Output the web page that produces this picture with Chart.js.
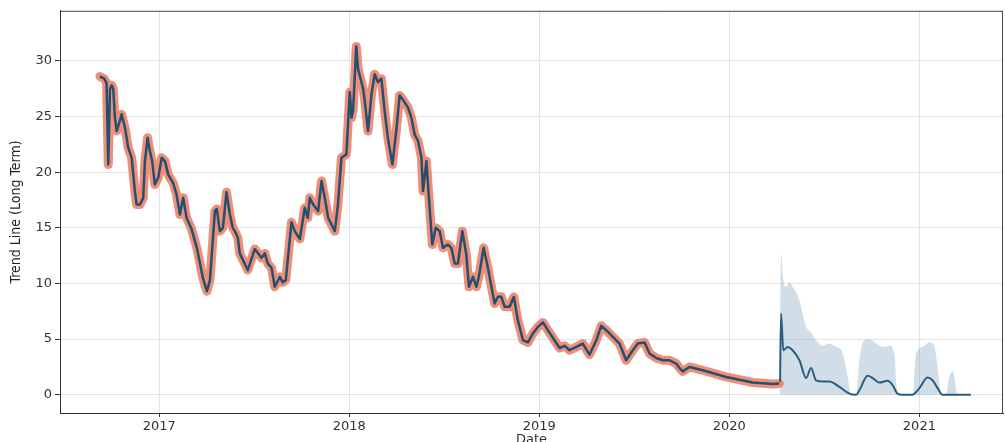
<!DOCTYPE html>
<html><head><meta charset="utf-8">
<script src="https://cdn.jsdelivr.net/npm/chart.js@4.4.1/dist/chart.umd.min.js"></script>
<style>html,body{margin:0;padding:0;background:#fff;overflow:hidden;width:1005px;height:442px}canvas{display:block}</style>
</head><body><canvas id="c" width="1005" height="448" style="width:1005px;height:448px"></canvas>
<script>
const yearTicks = [2017, 2018, 2019, 2020, 2021];
const valueTicks = [0, 5, 10, 15, 20, 25, 30];

// observed trend (decimal year, value)
const obsDates = [2016.688,2016.711,2016.723,2016.732,2016.741,2016.750,2016.758,2016.767,2016.776,2016.793,2016.802,2016.820,2016.837,2016.855,2016.872,2016.881,2016.899,2016.916,2016.925,2016.939,2016.951,2016.963,2016.977,2016.995,2017.013,2017.030,2017.047,2017.074,2017.091,2017.109,2017.126,2017.144,2017.170,2017.198,2017.230,2017.251,2017.267,2017.293,2017.303,2017.319,2017.335,2017.354,2017.372,2017.387,2017.398,2017.414,2017.424,2017.466,2017.503,2017.538,2017.556,2017.571,2017.591,2017.608,2017.635,2017.650,2017.666,2017.696,2017.713,2017.740,2017.766,2017.782,2017.792,2017.810,2017.836,2017.854,2017.871,2017.889,2017.924,2017.940,2017.959,2017.985,2018.003,2018.012,2018.020,2018.037,2018.046,2018.064,2018.073,2018.081,2018.099,2018.117,2018.134,2018.151,2018.169,2018.187,2018.204,2018.227,2018.248,2018.265,2018.283,2018.309,2018.327,2018.344,2018.362,2018.380,2018.388,2018.406,2018.423,2018.437,2018.455,2018.476,2018.493,2018.519,2018.537,2018.555,2018.572,2018.595,2018.616,2018.630,2018.651,2018.669,2018.682,2018.707,2018.730,2018.748,2018.765,2018.782,2018.800,2018.818,2018.844,2018.866,2018.887,2018.914,2018.940,2018.966,2018.993,2019.019,2019.045,2019.080,2019.107,2019.133,2019.159,2019.195,2019.229,2019.264,2019.300,2019.326,2019.352,2019.387,2019.422,2019.457,2019.492,2019.518,2019.554,2019.580,2019.615,2019.650,2019.685,2019.720,2019.738,2019.755,2019.790,2019.860,2019.983,2020.123,2020.228,2020.263];
const obsValues = [28.6,28.4,28.0,20.7,27.5,27.8,27.5,24.9,23.7,24.6,25.2,24.0,22.2,21.3,18.3,17.1,17.1,17.7,21.0,23.1,21.9,21.0,18.9,19.5,21.3,21.0,19.8,19.0,18.0,16.2,17.7,15.9,14.9,13.2,10.5,9.3,10.3,16.5,16.7,14.7,15.0,18.2,16.2,15.0,14.7,14.1,12.7,11.2,13.1,12.3,12.7,11.8,11.4,9.7,10.6,10.1,10.3,15.5,14.7,14.0,16.8,15.9,17.7,17.1,16.5,19.2,17.7,15.9,14.7,17.0,21.3,21.6,27.2,24.9,25.5,31.3,29.3,28.1,27.5,26.5,23.7,27.0,28.8,28.1,28.4,25.4,23.0,20.7,23.8,26.9,26.5,25.8,24.9,23.4,22.8,21.3,18.3,21.0,16.8,13.5,15.0,14.7,13.2,13.5,13.2,11.8,11.8,14.7,12.6,9.7,10.6,9.7,10.6,13.2,11.4,9.7,8.2,8.8,8.8,7.9,7.9,8.8,6.7,4.9,4.7,5.5,6.1,6.5,5.8,4.9,4.2,4.4,4.0,4.3,4.6,3.6,4.9,6.2,5.8,5.2,4.6,3.1,4.0,4.6,4.7,3.7,3.3,3.1,3.1,2.8,2.4,2.1,2.5,2.2,1.6,1.1,0.96,1.0];

// forecast trend
const fcDates = [2020.267,2020.272,2020.284,2020.307,2020.333,2020.369,2020.404,2020.430,2020.456,2020.491,2020.526,2020.579,2020.632,2020.667,2020.684,2020.728,2020.754,2020.789,2020.833,2020.859,2020.885,2020.910,2020.963,2021.000,2021.043,2021.069,2021.096,2021.122,2021.271];
const fcValues = [1.16,7.3,4.0,4.3,4.0,3.1,1.5,2.4,1.3,1.2,1.2,0.7,0.1,0.0,0.4,1.7,1.5,1.1,1.25,0.87,0.1,0.0,0.0,0.6,1.55,1.3,0.6,0.0,0.0];

// forecast uncertainty (upper bound)
const bandDates = [2020.266,2020.272,2020.284,2020.299,2020.316,2020.333,2020.369,2020.404,2020.430,2020.456,2020.491,2020.526,2020.562,2020.596,2020.623,2020.640,2020.667,2020.684,2020.710,2020.737,2020.772,2020.807,2020.842,2020.868,2020.885,2020.964,2020.982,2021.017,2021.052,2021.078,2021.096,2021.114,2021.140,2021.157,2021.178,2021.198,2021.271];
const bandUpper = [1.2,12.6,10.3,9.7,10.1,9.7,8.5,6.1,5.6,4.9,4.4,4.6,4.3,3.8,1.6,0.1,0.0,3.1,4.9,5.0,4.6,4.3,4.4,3.7,0.1,0.0,3.7,4.3,4.7,4.4,2.5,0.1,0.0,1.6,2.1,0.1,0.0];

const pts = (xs, ys) => xs.map((x, i) => ({x: x, y: ys[i]}));

const frame = {
  id: 'frame',
  afterDraw(chart) {
    const {ctx, chartArea: a} = chart;
    ctx.save();
    ctx.strokeStyle = '#444';
    ctx.lineWidth = 1;
    ctx.beginPath();
    ctx.moveTo(a.left, a.top + 0.5); ctx.lineTo(a.right, a.top + 0.5);
    ctx.moveTo(a.right - 0.5, a.top); ctx.lineTo(a.right - 0.5, a.bottom);
    ctx.stroke();
    ctx.restore();
  }
};

new Chart(document.getElementById('c'), {
  type: 'line',
  data: {
    datasets: [
      {label: 'trend', data: pts(obsDates, obsValues), borderColor: '#23506f', borderWidth: 2.5, borderJoinStyle: 'round', pointRadius: 0, tension: 0, order: 1},
      {label: 'forecast', data: pts(fcDates, fcValues), borderColor: '#2a5e80', borderWidth: 2, borderJoinStyle: 'round', pointRadius: 0, cubicInterpolationMode: 'monotone', order: 2},
      {label: 'highlight', data: pts(obsDates, obsValues), borderColor: 'rgba(236,128,104,0.88)', borderWidth: 9, borderJoinStyle: 'round', borderCapStyle: 'round', pointRadius: 0, tension: 0, order: 3},
      {label: 'band', data: pts(bandDates, bandUpper), borderColor: 'rgba(125,160,185,0.35)', borderWidth: 0, backgroundColor: 'rgba(125,160,185,0.35)', fill: 'origin', pointRadius: 0, cubicInterpolationMode: 'monotone', order: 4}
    ]
  },
  options: {
    responsive: false,
    animation: false,
    devicePixelRatio: 1,
    layout: {padding: {top: 9, right: 2, left: 0, bottom: 0}},
    plugins: {legend: {display: false}, tooltip: {enabled: false}},
    scales: {
      x: {
        type: 'linear', min: 2016.478, max: 2021.44,
        afterBuildTicks: s => { s.ticks = yearTicks.map(v => ({value: v})); },
        afterFit: s => { s.height = 35; },
        grid: {color: '#e4e4e4', tickColor: '#333', tickLength: 4},
        border: {color: '#333', width: 1},
        ticks: {color: '#333', font: {family: 'DejaVu Sans', size: 13}, padding: 2, maxRotation: 0, callback: v => String(v)},
        title: {display: true, text: 'Date', color: '#333', font: {family: 'DejaVu Sans', size: 13}, padding: {top: 0, bottom: 1}}
      },
      y: {
        type: 'linear', min: -1.64, max: 34.5,
        afterBuildTicks: s => { s.ticks = valueTicks.map(v => ({value: v})); },
        afterFit: s => { s.width = 60; },
        grid: {color: '#e4e4e4', tickColor: '#333', tickLength: 5},
        border: {color: '#333', width: 1},
        ticks: {color: '#333', font: {family: 'DejaVu Sans', size: 13}, padding: 3, callback: v => String(v)},
        title: {display: true, text: 'Trend Line (Long Term)', color: '#222', font: {family: "'Liberation Sans Narrow', 'DejaVu Sans Condensed', sans-serif", size: 14}, padding: {top: 8, bottom: 8}}
      }
    }
  },
  plugins: [frame]
});
</script>
</body></html>
